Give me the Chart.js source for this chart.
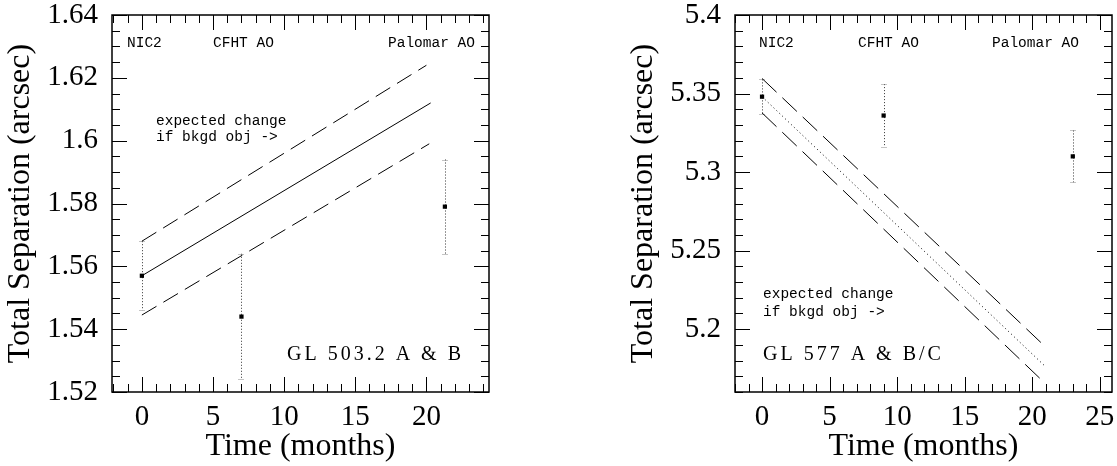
<!DOCTYPE html>
<html>
<head>
<meta charset="utf-8">
<script src="https://cdn.jsdelivr.net/npm/chart.js@4"></script>
<style>
  body { margin: 0; background: #fff; }
  #left { position: absolute; left: 0; top: 0; }
  #right { position: absolute; left: 558px; top: 0; }
</style>
</head>
<body>
<canvas id="left" width="558" height="466"></canvas>
<canvas id="right" width="559" height="466"></canvas>
<script>
// GL 503.2 A & B
var gl503Times = [0, 7, 21.3];
var gl503Sep = [1.557, 1.544, 1.579];
var gl503Err = [0.011, 0.020, 0.015];
var gl503LineX = [0, 20.3];
var gl503Mid = [1.557, 1.612];
var gl503UpX = [0, 20];
var gl503Up = [1.568, 1.624];
var gl503LoX = [0, 20.2];
var gl503Lo = [1.5445, 1.599];
var gl503XTicks = [0, 5, 10, 15, 20];
var gl503YTicks = [1.52, 1.54, 1.56, 1.58, 1.6, 1.62, 1.64];

// GL 577 A & B/C
var gl577Times = [0, 9, 23];
var gl577Sep = [5.348, 5.336, 5.310];
var gl577Err = [0.011, 0.020, 0.0165];
var gl577LineX = [0, 20.96];
var gl577Mid = [5.348, 5.1763];
var gl577UpX = [0, 20.86];
var gl577Up = [5.3596, 5.1897];
var gl577LoX = [0, 20.67];
var gl577Lo = [5.3377, 5.1678];
var gl577XTicks = [0, 5, 10, 15, 20, 25];
var gl577YTicks = [5.2, 5.25, 5.3, 5.35, 5.4];

var instruments = ['NIC2', 'CFHT AO', 'Palomar AO'];

Chart.defaults.animation = false;
Chart.defaults.color = '#000';

function pts(xs, ys) {
  return xs.map(function (x, i) { return { x: x, y: ys[i] }; });
}

// frame + inward ticks on all four sides
var framePlugin = {
  id: 'frame',
  afterDraw: function (chart, args, opts) {
    var ctx = chart.ctx, a = chart.chartArea;
    var xs = chart.scales.x, ys = chart.scales.y;
    ctx.save();
    ctx.strokeStyle = '#000';
    ctx.lineWidth = 1;
    ctx.beginPath();
    var v, px, len;
    for (v = opts.xFrom; v <= opts.xTo + 1e-9; v += opts.xMinor) {
      px = Math.round(xs.getPixelForValue(v)) + 0.5;
      len = Math.abs(v / opts.xMajor - Math.round(v / opts.xMajor)) < 1e-6 ? 15 : 8;
      ctx.moveTo(px, a.bottom); ctx.lineTo(px, a.bottom - len);
      ctx.moveTo(px, a.top); ctx.lineTo(px, a.top + len);
    }
    for (v = opts.yFrom; v <= opts.yTo + 1e-9; v += opts.yMinor) {
      px = Math.round(ys.getPixelForValue(v)) + 0.5;
      len = Math.abs(v / opts.yMajor - Math.round(v / opts.yMajor)) < 1e-6 ? 15 : 8;
      ctx.moveTo(a.left, px); ctx.lineTo(a.left + len, px);
      ctx.moveTo(a.right, px); ctx.lineTo(a.right - len, px);
    }
    ctx.stroke();
    ctx.lineWidth = 1.5;
    ctx.strokeRect(a.left, a.top, a.right - a.left, a.bottom - a.top);
    ctx.restore();
  }
};

// dotted error bars
var errPlugin = {
  id: 'errbars',
  beforeDatasetsDraw: function (chart, args, opts) {
    var ctx = chart.ctx, xs = chart.scales.x, ys = chart.scales.y;
    ctx.save();
    ctx.lineWidth = 1;
    opts.x.forEach(function (t, i) {
      var px = Math.round(xs.getPixelForValue(t)) + 0.5;
      var top = ys.getPixelForValue(opts.y[i] + opts.e[i]);
      var bot = ys.getPixelForValue(opts.y[i] - opts.e[i]);
      ctx.strokeStyle = '#333';
      ctx.setLineDash([1, 2]);
      ctx.beginPath(); ctx.moveTo(px, top); ctx.lineTo(px, bot); ctx.stroke();
      ctx.strokeStyle = '#888';
      ctx.setLineDash([1, 1]);
      ctx.beginPath();
      ctx.moveTo(px - 3, Math.round(top) + 0.5); ctx.lineTo(px + 3, Math.round(top) + 0.5);
      ctx.moveTo(px - 3, Math.round(bot) + 0.5); ctx.lineTo(px + 3, Math.round(bot) + 0.5);
      ctx.stroke();
    });
    ctx.restore();
  }
};

// text annotations
var textPlugin = {
  id: 'texts',
  afterDraw: function (chart, args, opts) {
    var ctx = chart.ctx;
    ctx.save();
    ctx.fillStyle = '#000';
    ctx.textBaseline = 'middle';
    ctx.textAlign = 'left';
    opts.items.forEach(function (it) {
      ctx.font = it.font;
      ctx.letterSpacing = it.spacing || '0px';
      ctx.fillText(it.text, it.x, it.y);
    });
    ctx.restore();
  }
};

function makeChart(id, d) {
  var tickFont = { family: 'Liberation Serif', size: 29 };
  var titleFont = { family: 'Liberation Serif', size: 32 };
  return new Chart(document.getElementById(id), {
    type: 'scatter',
    data: {
      datasets: [
        { data: pts(d.upX, d.up), showLine: true, borderColor: '#000', borderWidth: 1, borderDash: d.dash, pointRadius: 0 },
        { data: pts(d.lineX, d.mid), showLine: true, borderColor: '#000', borderWidth: 1, borderDash: d.midDash, pointRadius: 0 },
        { data: pts(d.loX, d.lo), showLine: true, borderColor: '#000', borderWidth: 1, borderDash: d.dash, pointRadius: 0 },
        { data: pts(d.times, d.sep), pointStyle: 'rect', pointRadius: 3, backgroundColor: '#000', borderWidth: 0 }
      ]
    },
    options: {
      responsive: false,
      devicePixelRatio: 1,
      layout: { padding: { top: 15, left: d.padLeft, right: d.padRight, bottom: 0 } },
      plugins: {
        legend: { display: false },
        tooltip: { enabled: false },
        frame: d.frame,
        errbars: { x: d.times, y: d.sep, e: d.err },
        texts: { items: d.texts }
      },
      scales: {
        x: {
          type: 'linear', min: d.xMin, max: d.xMax,
          grid: { display: false, drawTicks: false },
          border: { display: false },
          afterBuildTicks: function (s) { s.ticks = d.xTicks.map(function (v) { return { value: v }; }); },
          afterFit: function (s) { s.height = 74; s.paddingLeft = 0; s.paddingRight = 0; },
          ticks: { font: tickFont, color: '#000', padding: 8, maxRotation: 0 },
          title: { display: true, text: 'Time (months)', font: titleFont, color: '#000', padding: { top: 0, bottom: 0 } }
        },
        y: {
          type: 'linear', min: d.yMin, max: d.yMax,
          grid: { display: false, drawTicks: false },
          border: { display: false },
          afterBuildTicks: function (s) { s.ticks = d.yTicks.map(function (v) { return { value: v }; }); },
          afterFit: function (s) { s.width = 112; s.paddingTop = 0; s.paddingBottom = 0; },
          ticks: { font: tickFont, color: '#000', padding: 14, callback: function (v) { return String(+v.toFixed(3)); } },
          title: { display: true, text: 'Total Separation (arcsec)', font: titleFont, color: '#000', padding: { top: 1, bottom: 0 } }
        }
      }
    },
    plugins: [errPlugin, framePlugin, textPlugin]
  });
}

var small = '14.5px "Liberation Mono"';
var big = '20px "Liberation Serif"';

makeChart('left', {
  times: gl503Times, sep: gl503Sep, err: gl503Err,
  lineX: gl503LineX, mid: gl503Mid, upX: gl503UpX, up: gl503Up, loX: gl503LoX, lo: gl503Lo,
  dash: [17, 8], midDash: [],
  xMin: -2.1, xMax: 24.4, yMin: 1.52, yMax: 1.64,
  xTicks: gl503XTicks, yTicks: gl503YTicks,
  padLeft: 0, padRight: 69,
  frame: { xFrom: -2, xTo: 24, xMinor: 1, xMajor: 5, yFrom: 1.52, yTo: 1.64, yMinor: 0.005, yMajor: 0.02 },
  texts: [
    { text: instruments[0], x: 127, y: 43, font: small },
    { text: instruments[1], x: 213, y: 43, font: small },
    { text: instruments[2], x: 388, y: 43, font: small },
    { text: 'expected change', x: 156, y: 121, font: small },
    { text: 'if bkgd obj ->', x: 156, y: 137, font: small },
    { text: 'GL 503.2 A & B', x: 287, y: 355, font: big, spacing: '3px' }
  ]
});

makeChart('right', {
  times: gl577Times, sep: gl577Sep, err: gl577Err,
  lineX: gl577LineX, mid: gl577Mid, upX: gl577UpX, up: gl577Up, loX: gl577LoX, lo: gl577Lo,
  dash: [20, 8], midDash: [1, 3],
  xMin: -2, xMax: 25.9, yMin: 5.16, yMax: 5.4,
  xTicks: gl577XTicks, yTicks: gl577YTicks,
  padLeft: 65, padRight: 5,
  frame: { xFrom: -2, xTo: 25, xMinor: 1, xMajor: 5, yFrom: 5.16, yTo: 5.4, yMinor: 0.01, yMajor: 0.05 },
  texts: [
    { text: instruments[0], x: 201, y: 43, font: small },
    { text: instruments[1], x: 300, y: 43, font: small },
    { text: instruments[2], x: 434, y: 43, font: small },
    { text: 'expected change', x: 205, y: 294, font: small },
    { text: 'if bkgd obj ->', x: 205, y: 312, font: small },
    { text: 'GL 577 A & B/C', x: 205, y: 355, font: big, spacing: '3px' }
  ]
});
</script>
</body>
</html>
